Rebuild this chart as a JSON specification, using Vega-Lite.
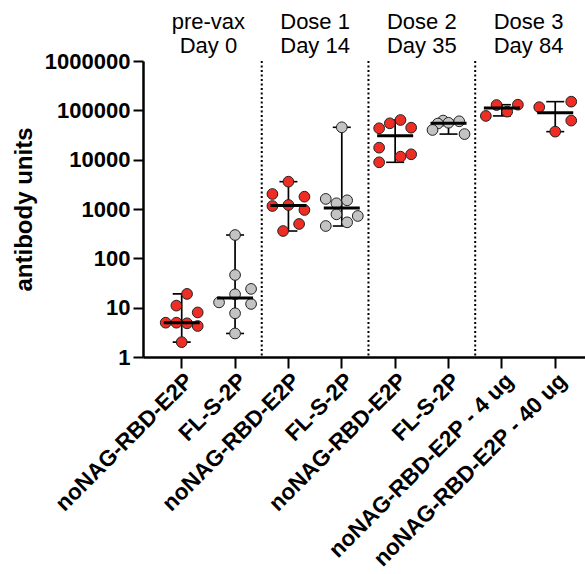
{
  "$schema": "https://vega.github.io/schema/vega-lite/v6.json",
  "autosize": "none",
  "width": 442,
  "height": 296,
  "padding": {"left": 143, "top": 61, "right": 0, "bottom": 217},
  "background": "white",
  "config": {"view": {"stroke": null}, "font": "Liberation Sans"},
  "datasets": {
    "sera": [
      {"group": "pre-vax|Day 0|noNAG-RBD-E2P", "vaccine": "noNAG-RBD-E2P", "animal": 6, "units": 19},
      {"group": "pre-vax|Day 0|noNAG-RBD-E2P", "vaccine": "noNAG-RBD-E2P", "animal": 4, "units": 11},
      {"group": "pre-vax|Day 0|noNAG-RBD-E2P", "vaccine": "noNAG-RBD-E2P", "animal": 8, "units": 8},
      {"group": "pre-vax|Day 0|noNAG-RBD-E2P", "vaccine": "noNAG-RBD-E2P", "animal": 2, "units": 4.96},
      {"group": "pre-vax|Day 0|noNAG-RBD-E2P", "vaccine": "noNAG-RBD-E2P", "animal": 4, "units": 4.96},
      {"group": "pre-vax|Day 0|noNAG-RBD-E2P", "vaccine": "noNAG-RBD-E2P", "animal": 6, "units": 4.82},
      {"group": "pre-vax|Day 0|noNAG-RBD-E2P", "vaccine": "noNAG-RBD-E2P", "animal": 8, "units": 4.25},
      {"group": "pre-vax|Day 0|noNAG-RBD-E2P", "vaccine": "noNAG-RBD-E2P", "animal": 5, "units": 2},
      {"group": "pre-vax|Day 0|FL-S-2P", "vaccine": "FL-S-2P", "animal": 5, "units": 297},
      {"group": "pre-vax|Day 0|FL-S-2P", "vaccine": "FL-S-2P", "animal": 5, "units": 46},
      {"group": "pre-vax|Day 0|FL-S-2P", "vaccine": "FL-S-2P", "animal": 8, "units": 24},
      {"group": "pre-vax|Day 0|FL-S-2P", "vaccine": "FL-S-2P", "animal": 5, "units": 18.7},
      {"group": "pre-vax|Day 0|FL-S-2P", "vaccine": "FL-S-2P", "animal": 2, "units": 12.8},
      {"group": "pre-vax|Day 0|FL-S-2P", "vaccine": "FL-S-2P", "animal": 8, "units": 11.9},
      {"group": "pre-vax|Day 0|FL-S-2P", "vaccine": "FL-S-2P", "animal": 5, "units": 7.7},
      {"group": "pre-vax|Day 0|FL-S-2P", "vaccine": "FL-S-2P", "animal": 5, "units": 3.0},
      {"group": "Dose 1|Day 14|noNAG-RBD-E2P", "vaccine": "noNAG-RBD-E2P", "animal": 5, "units": 3580},
      {"group": "Dose 1|Day 14|noNAG-RBD-E2P", "vaccine": "noNAG-RBD-E2P", "animal": 2, "units": 2015},
      {"group": "Dose 1|Day 14|noNAG-RBD-E2P", "vaccine": "noNAG-RBD-E2P", "animal": 8, "units": 1778},
      {"group": "Dose 1|Day 14|noNAG-RBD-E2P", "vaccine": "noNAG-RBD-E2P", "animal": 5, "units": 1206},
      {"group": "Dose 1|Day 14|noNAG-RBD-E2P", "vaccine": "noNAG-RBD-E2P", "animal": 2, "units": 1150},
      {"group": "Dose 1|Day 14|noNAG-RBD-E2P", "vaccine": "noNAG-RBD-E2P", "animal": 8, "units": 955},
      {"group": "Dose 1|Day 14|noNAG-RBD-E2P", "vaccine": "noNAG-RBD-E2P", "animal": 7, "units": 497},
      {"group": "Dose 1|Day 14|noNAG-RBD-E2P", "vaccine": "noNAG-RBD-E2P", "animal": 4, "units": 358},
      {"group": "Dose 1|Day 14|FL-S-2P", "vaccine": "FL-S-2P", "animal": 5, "units": 45300},
      {"group": "Dose 1|Day 14|FL-S-2P", "vaccine": "FL-S-2P", "animal": 2, "units": 1600},
      {"group": "Dose 1|Day 14|FL-S-2P", "vaccine": "FL-S-2P", "animal": 6, "units": 1500},
      {"group": "Dose 1|Day 14|FL-S-2P", "vaccine": "FL-S-2P", "animal": 4, "units": 1306},
      {"group": "Dose 1|Day 14|FL-S-2P", "vaccine": "FL-S-2P", "animal": 4, "units": 781},
      {"group": "Dose 1|Day 14|FL-S-2P", "vaccine": "FL-S-2P", "animal": 8, "units": 722},
      {"group": "Dose 1|Day 14|FL-S-2P", "vaccine": "FL-S-2P", "animal": 6, "units": 537},
      {"group": "Dose 1|Day 14|FL-S-2P", "vaccine": "FL-S-2P", "animal": 2, "units": 452},
      {"group": "Dose 2|Day 35|noNAG-RBD-E2P", "vaccine": "noNAG-RBD-E2P", "animal": 6, "units": 63700},
      {"group": "Dose 2|Day 35|noNAG-RBD-E2P", "vaccine": "noNAG-RBD-E2P", "animal": 4, "units": 54600},
      {"group": "Dose 2|Day 35|noNAG-RBD-E2P", "vaccine": "noNAG-RBD-E2P", "animal": 8, "units": 44500},
      {"group": "Dose 2|Day 35|noNAG-RBD-E2P", "vaccine": "noNAG-RBD-E2P", "animal": 2, "units": 43300},
      {"group": "Dose 2|Day 35|noNAG-RBD-E2P", "vaccine": "noNAG-RBD-E2P", "animal": 2, "units": 17500},
      {"group": "Dose 2|Day 35|noNAG-RBD-E2P", "vaccine": "noNAG-RBD-E2P", "animal": 8, "units": 12850},
      {"group": "Dose 2|Day 35|noNAG-RBD-E2P", "vaccine": "noNAG-RBD-E2P", "animal": 6, "units": 11500},
      {"group": "Dose 2|Day 35|noNAG-RBD-E2P", "vaccine": "noNAG-RBD-E2P", "animal": 2, "units": 8840},
      {"group": "Dose 2|Day 35|FL-S-2P", "vaccine": "FL-S-2P", "animal": 4, "units": 62000},
      {"group": "Dose 2|Day 35|FL-S-2P", "vaccine": "FL-S-2P", "animal": 7, "units": 60000},
      {"group": "Dose 2|Day 35|FL-S-2P", "vaccine": "FL-S-2P", "animal": 5, "units": 56000},
      {"group": "Dose 2|Day 35|FL-S-2P", "vaccine": "FL-S-2P", "animal": 3, "units": 54000},
      {"group": "Dose 2|Day 35|FL-S-2P", "vaccine": "FL-S-2P", "animal": 2, "units": 40000},
      {"group": "Dose 2|Day 35|FL-S-2P", "vaccine": "FL-S-2P", "animal": 8, "units": 33000},
      {"group": "Dose 3|Day 84|noNAG-RBD-E2P - 4 ug", "vaccine": "noNAG-RBD-E2P", "animal": 4, "units": 128000},
      {"group": "Dose 3|Day 84|noNAG-RBD-E2P - 4 ug", "vaccine": "noNAG-RBD-E2P", "animal": 8, "units": 130000},
      {"group": "Dose 3|Day 84|noNAG-RBD-E2P - 4 ug", "vaccine": "noNAG-RBD-E2P", "animal": 6, "units": 94000},
      {"group": "Dose 3|Day 84|noNAG-RBD-E2P - 4 ug", "vaccine": "noNAG-RBD-E2P", "animal": 2, "units": 77000},
      {"group": "Dose 3|Day 84|noNAG-RBD-E2P - 40 ug", "vaccine": "noNAG-RBD-E2P", "animal": 8, "units": 150000},
      {"group": "Dose 3|Day 84|noNAG-RBD-E2P - 40 ug", "vaccine": "noNAG-RBD-E2P", "animal": 2, "units": 116000},
      {"group": "Dose 3|Day 84|noNAG-RBD-E2P - 40 ug", "vaccine": "noNAG-RBD-E2P", "animal": 8, "units": 62000},
      {"group": "Dose 3|Day 84|noNAG-RBD-E2P - 40 ug", "vaccine": "noNAG-RBD-E2P", "animal": 5, "units": 37000}
    ],
    "timepoints": [
      {"timepoint": "pre-vax", "day": "Day 0", "first": "pre-vax|Day 0|noNAG-RBD-E2P", "second": "pre-vax|Day 0|FL-S-2P"},
      {"timepoint": "Dose 1", "day": "Day 14", "first": "Dose 1|Day 14|noNAG-RBD-E2P", "second": "Dose 1|Day 14|FL-S-2P"},
      {"timepoint": "Dose 2", "day": "Day 35", "first": "Dose 2|Day 35|noNAG-RBD-E2P", "second": "Dose 2|Day 35|FL-S-2P"},
      {"timepoint": "Dose 3", "day": "Day 84", "first": "Dose 3|Day 84|noNAG-RBD-E2P - 4 ug", "second": "Dose 3|Day 84|noNAG-RBD-E2P - 40 ug"}
    ]
  },
  "resolve": {"axis": {"x": "independent"}},
  "layer": [
    {
      "data": {"name": "timepoints"},
      "transform": [{"filter": "datum.timepoint != 'pre-vax'"}],
      "mark": {"type": "rule", "strokeDash": [2, 2.5], "strokeWidth": 2, "color": "black"},
      "encoding": {
        "x": {
          "field": "first", "type": "nominal", "bandPosition": 0,
          "scale": {
            "domain": ["pre-vax|Day 0|noNAG-RBD-E2P", "pre-vax|Day 0|FL-S-2P", "Dose 1|Day 14|noNAG-RBD-E2P", "Dose 1|Day 14|FL-S-2P", "Dose 2|Day 35|noNAG-RBD-E2P", "Dose 2|Day 35|FL-S-2P", "Dose 3|Day 84|noNAG-RBD-E2P - 4 ug", "Dose 3|Day 84|noNAG-RBD-E2P - 40 ug"],
            "type": "band", "paddingInner": 0, "paddingOuter": 0.1415, "align": 0.796
          },
          "axis": {
            "orient": "top", "title": null, "domain": false, "ticks": false,
            "values": ["pre-vax|Day 0|FL-S-2P", "Dose 1|Day 14|FL-S-2P", "Dose 2|Day 35|FL-S-2P", "Dose 3|Day 84|noNAG-RBD-E2P - 40 ug"],
            "labelOffset": -26.68,
            "labelExpr": "[split(datum.label, '|')[0], split(datum.label, '|')[1]]",
            "labelAngle": 0, "labelAlign": "center", "labelBaseline": "bottom",
            "labelFontSize": 22, "labelFontWeight": "normal", "labelColor": "black",
            "labelLineHeight": 24, "labelPadding": 28, "labelOverlap": false, "labelBound": false, "labelLimit": 300
          }
        }
      }
    },
    {
      "data": {"name": "sera"},
      "mark": {"type": "rule", "strokeWidth": 1.7, "color": "black"},
      "encoding": {
        "x": {"field": "group", "type": "nominal", "axis": null},
        "y": {"aggregate": "min", "field": "units", "type": "quantitative", "title": "antibody units"},
        "y2": {"aggregate": "max", "field": "units"}
      }
    },
    {
      "data": {"name": "sera"},
      "mark": {"type": "tick", "size": 18, "thickness": 1.6, "color": "black", "opacity": 1},
      "encoding": {
        "x": {"field": "group", "type": "nominal", "axis": null},
        "y": {"aggregate": "min", "field": "units", "type": "quantitative", "title": "antibody units"}
      }
    },
    {
      "data": {"name": "sera"},
      "mark": {"type": "tick", "size": 18, "thickness": 1.6, "color": "black", "opacity": 1},
      "encoding": {
        "x": {"field": "group", "type": "nominal", "axis": null},
        "y": {"aggregate": "max", "field": "units", "type": "quantitative", "title": "antibody units"}
      }
    },
    {
      "data": {"name": "sera"},
      "mark": {"type": "circle", "size": 115, "stroke": "#222222", "strokeWidth": 1, "opacity": 1},
      "encoding": {
        "x": {
          "field": "group", "type": "nominal",
          "axis": {
            "orient": "bottom", "title": null,
            "labelExpr": "split(datum.label, '|')[2]",
            "labelAngle": -45, "labelFontSize": 22.5, "labelFontWeight": "bold", "labelColor": "black",
            "labelLimit": 320, "labelPadding": 1,
            "domainColor": "black", "domainWidth": 2.5,
            "tickColor": "black", "tickWidth": 2, "tickSize": 11
          }
        },
        "xOffset": {
          "field": "animal", "type": "ordinal",
          "scale": {"domain": [1, 2, 3, 4, 5, 6, 7, 8, 9], "paddingInner": 0, "paddingOuter": 2.17}
        },
        "y": {
          "field": "units", "type": "quantitative", "title": "antibody units",
          "scale": {"type": "log", "domain": [1, 1000000]},
          "axis": {
            "values": [1, 10, 100, 1000, 10000, 100000, 1000000], "format": "d", "grid": false,
            "labelFontSize": 22, "labelFontWeight": "bold", "labelColor": "black", "labelPadding": 3,
            "titleFontSize": 24, "titleFontWeight": "bold", "titleColor": "black", "titlePadding": 8,
            "domainColor": "black", "domainWidth": 2.5, "tickColor": "black", "tickWidth": 2, "tickSize": 10
          }
        },
        "color": {
          "field": "vaccine", "type": "nominal", "legend": null,
          "scale": {"domain": ["noNAG-RBD-E2P", "FL-S-2P"], "range": ["#ee2e24", "#c3c3c3"]}
        }
      }
    },
    {
      "data": {"name": "sera"},
      "mark": {"type": "tick", "size": 36, "thickness": 3, "color": "black", "opacity": 1},
      "encoding": {
        "x": {"field": "group", "type": "nominal", "axis": null},
        "y": {"aggregate": "median", "field": "units", "type": "quantitative", "title": "antibody units"}
      }
    }
  ]
}
